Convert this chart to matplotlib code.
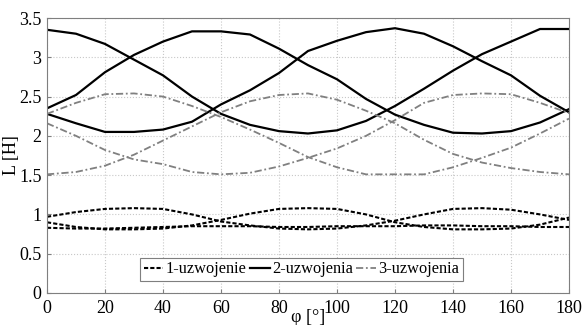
import numpy as np
import matplotlib
matplotlib.use('Agg')
import matplotlib.pyplot as plt

plt.rcParams['font.family'] = ['Liberation Serif', 'DejaVu Serif']

# kat obrotu, co 10 stopni
phi = np.arange(0, 181, 10)

# 1-uzwojenie (przerywane)
L1_a = [0.97, 1.03, 1.07, 1.08, 1.07, 1.00, 0.91, 0.86, 0.82, 0.81,
        0.82, 0.86, 0.92, 1.00, 1.07, 1.08, 1.06, 1.00, 0.93]
L1_b = [0.90, 0.84, 0.81, 0.81, 0.82, 0.86, 0.93, 1.01, 1.07, 1.08,
        1.07, 1.00, 0.90, 0.84, 0.81, 0.81, 0.82, 0.87, 0.96]
L1_c = [0.83, 0.82, 0.82, 0.83, 0.84, 0.85, 0.85, 0.85, 0.84, 0.84,
        0.85, 0.85, 0.85, 0.86, 0.86, 0.85, 0.85, 0.84, 0.84]

# 2-uzwojenia (ciagle)
L2_a = [3.35, 3.30, 3.17, 2.97, 2.77, 2.50, 2.28, 2.14, 2.06, 2.03,
        2.07, 2.19, 2.38, 2.60, 2.83, 3.04, 3.20, 3.36, 3.36]
L2_b = [2.35, 2.52, 2.81, 3.03, 3.20, 3.33, 3.33, 3.29, 3.11, 2.90,
        2.72, 2.47, 2.27, 2.14, 2.04, 2.03, 2.06, 2.17, 2.34]
L2_c = [2.28, 2.16, 2.05, 2.05, 2.08, 2.18, 2.40, 2.58, 2.80, 3.08,
        3.21, 3.32, 3.37, 3.30, 3.14, 2.95, 2.77, 2.51, 2.30]

# 3-uzwojenia (kreska-kropka)
L3_a = [2.28, 2.42, 2.53, 2.54, 2.50, 2.38, 2.24, 2.08, 1.91, 1.73,
        1.60, 1.51, 1.51, 1.51, 1.60, 1.72, 1.85, 2.03, 2.22]
L3_b = [2.16, 2.00, 1.82, 1.70, 1.64, 1.54, 1.51, 1.53, 1.61, 1.72,
        1.84, 2.00, 2.20, 2.42, 2.52, 2.54, 2.53, 2.42, 2.29]
L3_c = [1.51, 1.54, 1.62, 1.76, 1.94, 2.12, 2.30, 2.44, 2.52, 2.54,
        2.46, 2.32, 2.16, 1.95, 1.77, 1.66, 1.59, 1.54, 1.51]

fig = plt.figure(figsize=(5.83, 3.25), dpi=100)
ax = fig.add_axes([0.0806, 0.0985, 0.8954, 0.8461])

dash = (0, (2, 1))
dashdot = (0, (4, 1.5, 1, 1.5))
gray = '#808080'

for i, y in enumerate([L1_a, L1_b, L1_c]):
    ax.plot(phi, y, color='black', lw=1.5, linestyle=dash,
            label='1-uzwojenie' if i == 0 else None)
for i, y in enumerate([L2_a, L2_b, L2_c]):
    ax.plot(phi, y, color='black', lw=1.6,
            label='2-uzwojenia' if i == 0 else None)
for i, y in enumerate([L3_a, L3_b, L3_c]):
    ax.plot(phi, y, color=gray, lw=1.3, linestyle=dashdot,
            label='3-uzwojenia' if i == 0 else None)

ax.set_xlim(0, 180)
ax.set_ylim(0, 3.5)
ax.set_xticks(np.arange(0, 181, 20))
ax.set_yticks(np.arange(0, 3.51, 0.5))
ax.set_yticklabels(['0', '0.5', '1', '1.5', '2', '2.5', '3', '3.5'])
ax.tick_params(direction='in', labelsize=13, length=3, color='#7f7f7f')
ax.tick_params(axis='x', pad=5)
ax.tick_params(axis='y', pad=4)
ax.grid(True, color='#c8c8c8', linestyle=':', lw=0.8)
for s in ax.spines.values():
    s.set_color('#7f7f7f')
    s.set_linewidth(0.8)

ax.set_xlabel('φ [°]', fontsize=13, labelpad=-6)
ax.set_ylabel('L [H]', fontsize=13, labelpad=-1)

leg = ax.legend(loc='lower center', bbox_to_anchor=(0.4876, 0.045), ncol=3,
                fontsize=11.8, fancybox=False, framealpha=1, edgecolor='#7f7f7f',
                handlelength=1.2, handletextpad=0.15, columnspacing=0.2,
                borderpad=0.2, borderaxespad=0)
leg.get_frame().set_linewidth(0.8)

fig.savefig('out.png', dpi=100)
